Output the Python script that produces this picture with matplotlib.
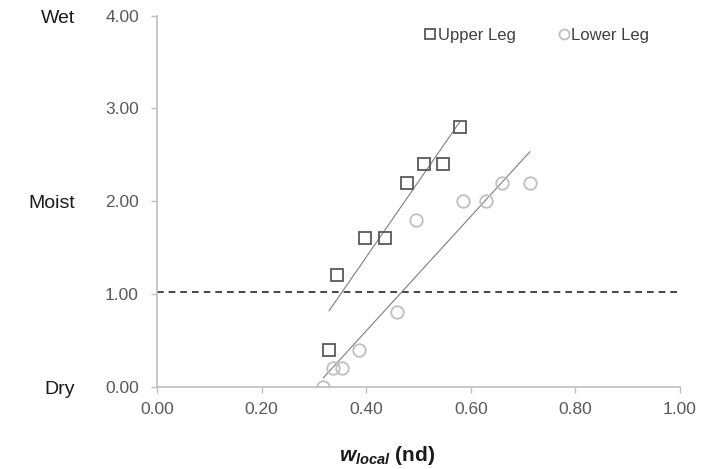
import numpy as np
import matplotlib
matplotlib.use("Agg")
import matplotlib.pyplot as plt

plt.rcParams['font.family'] = ['Liberation Sans', 'DejaVu Sans']
plt.rcParams['mathtext.fontset'] = 'custom'
plt.rcParams['mathtext.it'] = 'Liberation Sans:italic:bold'
plt.rcParams['mathtext.rm'] = 'Liberation Sans:bold'

# Data
upper_x = [0.329, 0.345, 0.398, 0.435, 0.478, 0.510, 0.546, 0.579]
upper_y = [0.40, 1.20, 1.60, 1.60, 2.20, 2.40, 2.40, 2.80]
lower_x = [0.318, 0.337, 0.353, 0.387, 0.458, 0.495, 0.586, 0.630, 0.660, 0.713]
lower_y = [0.00, 0.20, 0.20, 0.40, 0.80, 1.80, 2.00, 2.00, 2.20, 2.20]
threshold = 1.02
x_ticks = [0.0, 0.2, 0.4, 0.6, 0.8, 1.0]
y_ticks = [0.0, 1.0, 2.0, 3.0, 4.0]
moisture_labels = ["Dry", "Moist", "Wet"]
moisture_levels = [0.0, 2.0, 4.0]

fig = plt.figure(figsize=(7.08, 4.69), dpi=100)
ax = fig.add_axes([157/708, 1 - 386.7/469, (680-157)/708, (386.7-15.7)/469])

# threshold line
ax.plot([0, 1], [threshold, threshold], color='#262626', lw=1.2,
        linestyle=(0, (4, 3)), zorder=1)

# linear trend lines over each data range
for xs, ys in [(upper_x, upper_y), (lower_x, lower_y)]:
    k, b = np.polyfit(xs, ys, 1)
    xx = np.array([min(xs), max(xs)])
    ax.plot(xx, k*xx + b, color='#7f7f7f', lw=0.8, zorder=2)

ax.plot(upper_x, upper_y, 's', ms=8.5, mfc='none', mec='#595959', mew=1.3,
        label='Upper Leg', zorder=3)
ax.plot(lower_x, lower_y, 'o', ms=9, mfc='none', mec='#bfbfbf', mew=1.3,
        label='Lower Leg', zorder=3)

ax.set_xlim(0, 1)
ax.set_ylim(0, 4)
ax.set_xticks(x_ticks)
ax.set_yticks(y_ticks)
ax.set_xticklabels([f"{v:.2f}" for v in x_ticks])
ax.set_yticklabels([f"{v:.2f}" for v in y_ticks])
ax.tick_params(colors='#bfbfbf', labelcolor='#595959', labelsize=12.5,
               length=4, width=1)
ax.tick_params(axis='y', pad=9)
ax.tick_params(axis='x', pad=7)
for s in ['top', 'right']:
    ax.spines[s].set_visible(False)
for s in ['left', 'bottom']:
    ax.spines[s].set_color('#bfbfbf')
    ax.spines[s].set_linewidth(1.2)

for lab, lev in zip(moisture_labels, moisture_levels):
    ax.annotate(lab, xy=(0, lev), xycoords=('figure fraction', 'data'),
                xytext=(75, -2), textcoords=('figure pixels', 'offset points'),
                ha='right', va='center', fontsize=14, color='#1a1a1a')

fig.text(387/708, 1 - 455/469, r"$w_{local}$ (nd)",
         ha='center', va='center', fontsize=15, fontweight='bold',
         color='#1a1a1a')

leg = ax.legend(loc='upper left', bbox_to_anchor=(0.5, 0.985), ncol=2,
                frameon=False, fontsize=12, handlelength=0.6,
                handletextpad=0.15, columnspacing=2.6, markerscale=0.8,
                borderaxespad=0)
for t in leg.get_texts():
    t.set_color('#404040')

fig.savefig("out.png", dpi=100)
